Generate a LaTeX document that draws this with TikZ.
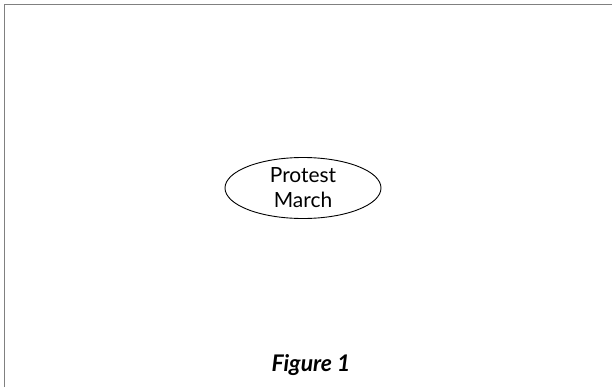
\documentclass[tikz,border=0pt]{standalone}
\usepackage{fontspec}
\setmainfont{Lato}
\usetikzlibrary{shapes.geometric}
\tikzset{
  event/.style={ellipse,draw,line width=0.9pt,minimum width=156bp,minimum height=61bp,inner sep=0pt,align=center,font=\fontsize{21}{25}\selectfont},
  caption/.style={font=\fontsize{23}{26}\selectfont\bfseries\itshape}
}
\begin{document}
\begin{tikzpicture}[x=1bp,y=1bp]
\useasboundingbox (0,0) rectangle (612,387);
\draw[gray,line width=2pt] (4.5,0) -- (4.5,382.5) -- (612,382.5);
\node[event] (march) at (303,199) {Protest\\March};
\node[caption] (fig) at (311,22) {Figure 1};
\end{tikzpicture}
\end{document}
